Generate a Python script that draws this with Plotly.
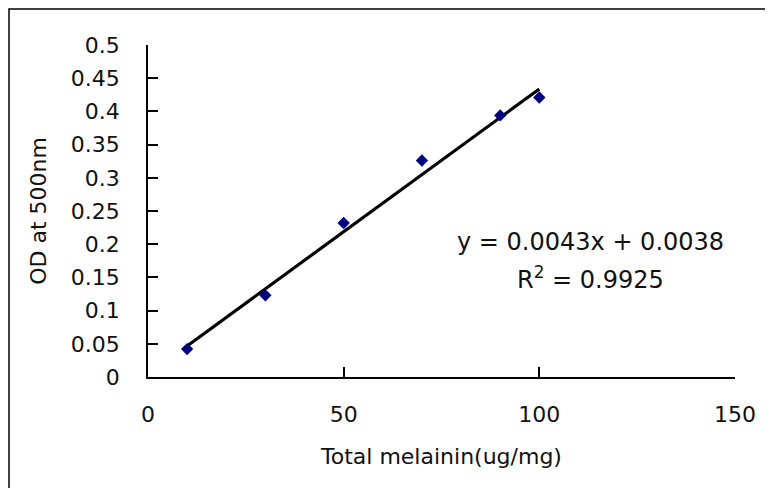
import plotly.graph_objects as go

melanin = [10, 30, 50, 70, 90, 100]
od = [0.042, 0.123, 0.232, 0.326, 0.394, 0.421]
slope = 0.0043
intercept = 0.0038
r2 = 0.9925
x_ticks = [0, 50, 100, 150]
y_ticks = [0, 0.05, 0.1, 0.15, 0.2, 0.25, 0.3, 0.35, 0.4, 0.45, 0.5]
y_tick_text = ["0", "0.05", "0.1", "0.15", "0.2", "0.25", "0.3", "0.35", "0.4", "0.45", "0.5"]

fit_x = [min(melanin), max(melanin)]
fit_y = [slope * v + intercept for v in fit_x]

FONT = "DejaVu Sans, Verdana, sans-serif"

fig = go.Figure()
fig.add_trace(go.Scatter(x=fit_x, y=fit_y, mode="lines",
                         line=dict(color="black", width=3.2), hoverinfo="skip"))
fig.add_trace(go.Scatter(x=melanin, y=od, mode="markers",
                         marker=dict(symbol="diamond", size=9.5, color="#000080",
                                     line=dict(width=0))))

# page body has an 8px margin; compensate so the plot area lands at x 148-735, y 45-377
OFF = 8
W, H = 773 - OFF, 488 - OFF
L, R, T, B = 148 - OFF, 773 - 735, 45 - OFF, 488 - 377
pw, ph = W - L - R, H - T - B

fig.update_layout(
    width=W, height=H,
    margin=dict(l=L, r=R, t=T, b=B),
    paper_bgcolor="white", plot_bgcolor="white",
    showlegend=False,
    font=dict(family=FONT, size=21, color="#111"),
    xaxis=dict(range=[0, 150], tickvals=x_ticks, ticktext=[str(v) for v in x_ticks],
               ticks="inside", ticklen=10, tickwidth=1.5, tickcolor="black",
               showline=True, linecolor="black", linewidth=1.5,
               showgrid=False, zeroline=False, ticklabelstandoff=17,
               tickfont=dict(size=22, family=FONT, color="#111"),
               title=dict(text="Total melainin(ug/mg)", font=dict(size=22, family=FONT, color="#111"),
                          standoff=22)),
    yaxis=dict(range=[0, 0.5], tickvals=y_ticks, ticktext=y_tick_text,
               ticks="inside", ticklen=10, tickwidth=1.5, tickcolor="black",
               showline=True, linecolor="black", linewidth=1.5,
               showgrid=False, zeroline=False, ticklabelstandoff=22,
               tickfont=dict(size=22, family=FONT, color="#111"),
               title=dict(text="OD at 500nm", font=dict(size=22, family=FONT, color="#111"),
                          standoff=18)),
)

fig.add_annotation(x=113.2, y=0.2033, xref="x", yref="y", showarrow=False,
                   text=f"y = {slope}x + {intercept}", font=dict(size=24, family=FONT, color="#111"))
fig.add_annotation(x=113.2, y=0.149, xref="x", yref="y", showarrow=False,
                   text=f"R<sup>2</sup> = {r2}", font=dict(size=24, family=FONT, color="#111"))

# outer chart frame (left and top edges visible)
fig.add_shape(type="rect", xref="paper", yref="paper",
              x0=(-L + 1) / pw, x1=(W + 20 - L) / pw,
              y0=-(B + 20) / ph, y1=(ph + T - 1) / ph,
              line=dict(color="black", width=1.5), layer="below")

fig.write_html("out.html")
